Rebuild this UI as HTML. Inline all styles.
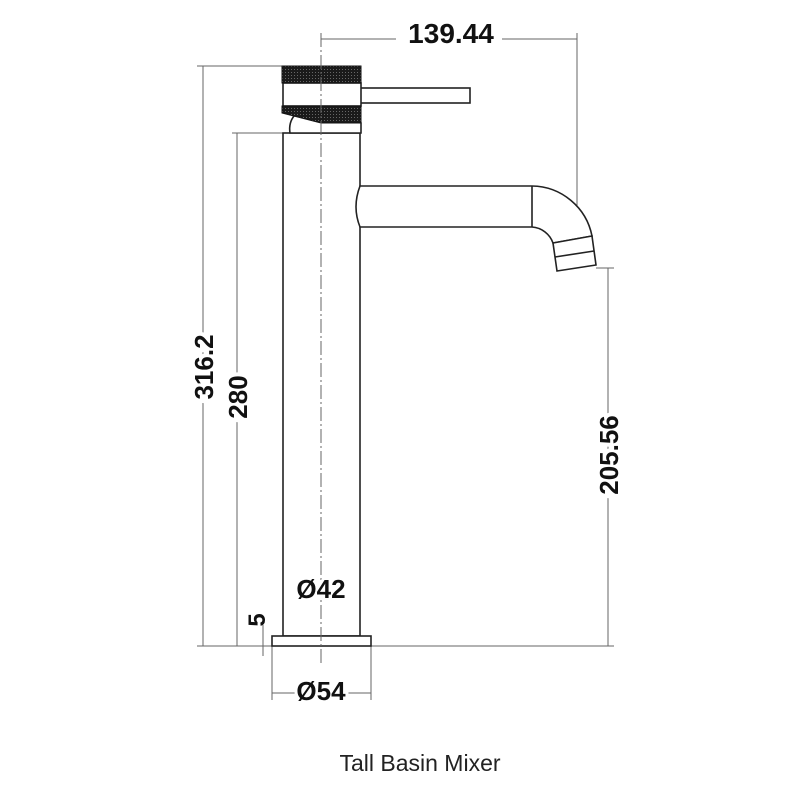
<!DOCTYPE html>
<html><head><style>body{margin:0;background:#fff}svg{display:block}</style></head><body>
<svg width="800" height="800" viewBox="0 0 800 800" xmlns="http://www.w3.org/2000/svg">
<defs>
<pattern id="k" width="3" height="3" patternUnits="userSpaceOnUse"><rect width="3" height="3" fill="#1a1a1a"/><rect width="1" height="1" fill="#666"/></pattern>
</defs>
<g stroke="#666" stroke-width="1" fill="none">
<line x1="321" y1="39" x2="577" y2="39"/>
<line x1="577" y1="33" x2="577" y2="268"/>
<line x1="203" y1="66" x2="203" y2="646"/>
<line x1="197" y1="66" x2="283" y2="66"/>
<line x1="237" y1="133" x2="237" y2="646"/>
<line x1="232" y1="133" x2="283" y2="133"/>
<line x1="197" y1="646" x2="614" y2="646"/>
<line x1="608" y1="268" x2="608" y2="646"/>
<line x1="596" y1="268" x2="614" y2="268"/>
<line x1="263" y1="625" x2="263" y2="656"/>
<line x1="283" y1="600" x2="360" y2="600"/>
<line x1="272" y1="646" x2="272" y2="700"/>
<line x1="371" y1="646" x2="371" y2="700"/>
<line x1="272" y1="693" x2="371" y2="693"/>
</g>
<g stroke="#222" stroke-width="1.6" fill="#fff">
<rect x="283" y="133" width="77" height="503"/>
<rect x="272" y="636" width="99" height="10"/>
<rect x="360" y="88" width="110" height="15"/>
<rect x="283" y="83" width="78" height="23" />
<path d="M290,133 Q288,120 298,112 L361,123 L361,133 Z" fill="#fff"/>
<path d="M360,186 L532,186 A62,62 0 0 1 592,236 L553,243 A24,24 0 0 0 532,227 L360,227 Q352,207 360,186 Z"/>
<line x1="532" y1="186" x2="532" y2="227"/>
<path d="M553,243 L592,236 L596,265 L557,271 Z"/>
<line x1="555" y1="257" x2="594" y2="251"/>
</g>
<rect x="282" y="66" width="79" height="17" fill="url(#k)" stroke="#111" stroke-width="1"/>
<path d="M282,106 L361,106 L361,123 L321,123 L282,113 Z" fill="url(#k)" stroke="#111" stroke-width="1"/>
<line x1="321" y1="33" x2="321" y2="665" stroke="#666" stroke-width="1" stroke-dasharray="14,3,2,3"/>
<g font-family="Liberation Sans, sans-serif" font-weight="bold" font-size="26" fill="#111" text-anchor="middle">
<rect x="396" y="18" width="106" height="32" fill="#fff"/>
<text x="451" y="43" font-size="28">139.44</text>
<text transform="translate(204,367) rotate(-90)" dy="9" style="paint-order:stroke" stroke="#fff" stroke-width="8">316.2</text>
<text transform="translate(238,397) rotate(-90)" dy="9" style="paint-order:stroke" stroke="#fff" stroke-width="8">280</text>
<text transform="translate(609,455) rotate(-90)" dy="9" style="paint-order:stroke" stroke="#fff" stroke-width="8">205.56</text>
<text transform="translate(256,620) rotate(-90)" dy="9" font-size="24">5</text>
<text x="321" y="598" style="paint-order:stroke" stroke="#fff" stroke-width="6">Ø42</text>
<text x="321" y="700" style="paint-order:stroke" stroke="#fff" stroke-width="6">Ø54</text>
</g>
<text x="420" y="771" font-family="Liberation Sans, sans-serif" font-size="23" fill="#222" text-anchor="middle">Tall Basin Mixer</text>
</svg>
</body></html>
